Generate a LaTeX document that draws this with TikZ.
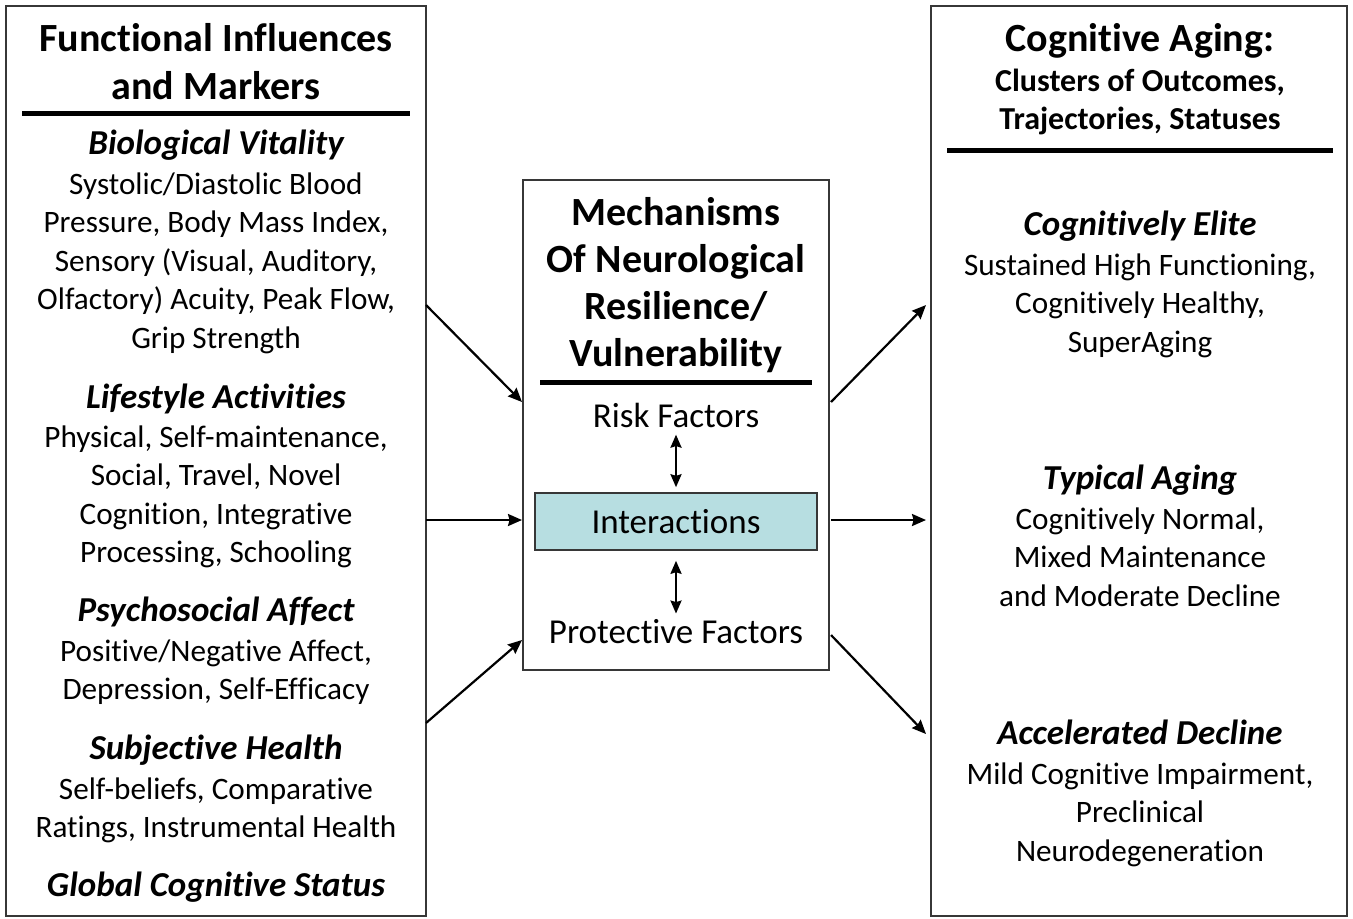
\documentclass[tikz,border=0pt]{standalone}
\usepackage{fontspec}
\setmainfont{Carlito}[Ligatures=NoCommon]
\usepackage{xcolor}
\usetikzlibrary{arrows.meta,positioning}

\definecolor{boxline}{RGB}{55,55,55}
\definecolor{interfill}{RGB}{183,222,225}

\tikzset{
  panel/.style={draw=boxline, line width=1pt, inner sep=0pt},
  bigtitle/.style={font=\fontsize{20}{24}\selectfont\bfseries, align=center, anchor=base, inner sep=0pt},
  subtitle/.style={font=\fontsize{16}{19}\selectfont\bfseries, align=center, anchor=base, inner sep=0pt},
  heading/.style={font=\fontsize{17.5}{20}\selectfont\bfseries\itshape, anchor=base, inner sep=0pt},
  bodytext/.style={font=\fontsize{15.6}{19.25}\selectfont, align=center, anchor=base, inner sep=0pt},
  midtext/.style={font=\fontsize{17.5}{20}\selectfont, anchor=base, inner sep=0pt},
  rule/.style={line width=2.5pt},
  flow/.style={line width=1.1pt, -{Stealth[length=7pt,width=6pt,inset=0.8pt]}},
  pair/.style={line width=1.1pt, {Stealth[length=6.5pt,width=5.5pt,inset=0.8pt]}-{Stealth[length=6.5pt,width=5.5pt,inset=0.8pt]}}
}

\begin{document}
\begin{tikzpicture}[x=0.5pt,y=-0.5pt]
\useasboundingbox (0,0) rectangle (1353,918);

% three panels
\node[panel, minimum width=210pt, minimum height=455pt] (fim) at (216,461) {};
\node[panel, minimum width=153pt, minimum height=245pt] (mech) at (676,425) {};
\node[panel, minimum width=208pt, minimum height=455pt] (aging) at (1139,461) {};

% left panel (multi-line texts sit on their last baseline)
\node[bigtitle] (fimtitle) at (216,99) {Functional Influences\\and Markers};
\draw[rule] (22,113) -- (410,113);
\node[heading] (bv) at (216,154) {Biological Vitality};
\node[bodytext] (bvtext) at (216,348) {Systolic/Diastolic Blood\\Pressure, Body Mass Index,\\Sensory (Visual, Auditory,\\Olfactory) Acuity, Peak Flow,\\Grip Strength};
\node[heading] (la) at (216,408) {Lifestyle Activities};
\node[bodytext] (latext) at (216,562.5) {Physical, Self-maintenance,\\Social, Travel, Novel\\Cognition, Integrative\\Processing, Schooling};
\node[heading] (pa) at (216,621) {Psychosocial Affect};
\node[bodytext] (patext) at (216,699.5) {Positive/Negative Affect,\\Depression, Self-Efficacy};
\node[heading] (sh) at (216,759) {Subjective Health};
\node[bodytext] (shtext) at (216,837.5) {Self-beliefs, Comparative\\Ratings, Instrumental Health};
\node[heading] (gcs) at (216,896) {Global Cognitive Status};

% middle panel
\node[bigtitle, font=\fontsize{20}{23.5}\selectfont\bfseries] (mechtitle) at (676,366) {Mechanisms\\Of Neurological\\Resilience/\\Vulnerability};
\draw[rule] (540,382) -- (812,382);
\node[midtext] (risk) at (676,427) {Risk Factors};
\node[draw=boxline, fill=interfill, line width=0.8pt, minimum width=141pt, minimum height=28.5pt,
      font=\fontsize{17.5}{20}\selectfont] (inter) at (676,521.5) {Interactions};
\node[midtext] (protect) at (676,643) {Protective Factors};
\draw[pair, shorten <=3.5pt, shorten >=2.5pt] (risk.south) -- (inter.north);
\draw[pair, shorten <=5pt, shorten >=2.5pt] (inter.south) -- (protect.north);

% right panel
\node[bigtitle] (agingtitle) at (1140,51) {Cognitive Aging:};
\node[subtitle] (agingsub) at (1140,129) {Clusters of Outcomes,\\Trajectories, Statuses};
\draw[rule] (947,150) -- (1333,150);
\node[heading] (elite) at (1140,235) {Cognitively Elite};
\node[bodytext] (elitetext) at (1140,352) {Sustained High Functioning,\\Cognitively Healthy,\\SuperAging};
\node[heading] (typical) at (1140,489) {Typical Aging};
\node[bodytext] (typicaltext) at (1140,606) {Cognitively Normal,\\Mixed Maintenance\\and Moderate Decline};
\node[heading] (accel) at (1140,744) {Accelerated Decline};
\node[bodytext] (acceltext) at (1140,861) {Mild Cognitive Impairment,\\Preclinical\\Neurodegeneration};

% arrow ends
\coordinate (fimA) at (426,305);
\coordinate (fimB) at (426,520);
\coordinate (fimC) at (426,723);
\coordinate (mechA) at (522,402);
\coordinate (mechB) at (522,520);
\coordinate (mechC) at (522,640);
\coordinate (outA) at (831,402);
\coordinate (outB) at (831,520);
\coordinate (outC) at (831,635);
\coordinate (agingA) at (926,305);
\coordinate (agingB) at (926,520);
\coordinate (agingC) at (926,734);

\draw[flow] (fimA) -- (mechA);
\draw[flow] (fimB) -- (mechB);
\draw[flow] (fimC) -- (mechC);
\draw[flow] (outA) -- (agingA);
\draw[flow] (outB) -- (agingB);
\draw[flow] (outC) -- (agingC);
\end{tikzpicture}
\end{document}
